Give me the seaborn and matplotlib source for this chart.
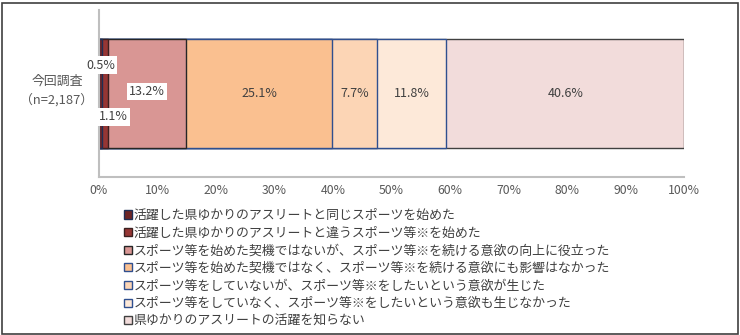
import matplotlib
matplotlib.use("Agg")
import matplotlib.pyplot as plt
import matplotlib.transforms as mtrans
from matplotlib.patches import Patch, Rectangle
import seaborn as sns
import pandas as pd
import numpy as np

category = "今回調査\n（n=2,187）"
series = [
    "活躍した県ゆかりのアスリートと同じスポーツを始めた",
    "活躍した県ゆかりのアスリートと違うスポーツ等※を始めた",
    "スポーツ等を始めた契機ではないが、スポーツ等※を続ける意欲の向上に役立った",
    "スポーツ等を始めた契機ではなく、スポーツ等※を続ける意欲にも影響はなかった",
    "スポーツ等をしていないが、スポーツ等※をしたいという意欲が生じた",
    "スポーツ等をしていなく、スポーツ等※をしたいという意欲も生じなかった",
    "県ゆかりのアスリートの活躍を知らない",
]
values = [0.5, 1.1, 13.2, 25.1, 7.7, 11.8, 40.6]
value_labels = ["0.5%", "1.1%", "13.2%", "25.1%", "7.7%", "11.8%", "40.6%"]
xticks = [0, 10, 20, 30, 40, 50, 60, 70, 80, 90, 100]
xtick_labels = [f"{t}%" for t in xticks]

colors = ["#6E2525", "#963634", "#D99694", "#FAC090", "#FCD5B5", "#FDE9D9", "#F2DCDB"]
edges = ["#1F2F55", "#3A2020", "#262626", "#2F4F8F", "#2F4F8F", "#2F4F8F", "#404040"]

sns.set_style("white")
plt.rcParams["font.family"] = ["Noto Sans CJK JP", "DejaVu Sans"]

fig = plt.figure(figsize=(7.4, 3.35), dpi=100)
ax = fig.add_axes([99 / 740, 1 - 177 / 335, 585 / 740, 167 / 335])

cum = np.cumsum(values)
# draw cumulative bars from the longest to the shortest (stacked look)
for i in range(len(values) - 1, -1, -1):
    df = pd.DataFrame({"cat": [category], "val": [cum[i]]})
    sns.barplot(data=df, x="val", y="cat", orient="h", color=colors[i],
                edgecolor=edges[i], linewidth=1.0, width=0.647, saturation=1,
                ax=ax, errorbar=None)

starts = cum - np.array(values)
centers = starts + np.array(values) / 2
label_pos = list(zip(centers, [0] * len(values)))
label_pos[0] = (0.3, -0.17)
label_pos[1] = (2.4, 0.14)
label_pos[2] = (8.2, -0.01)
for i, (lx, ly) in enumerate(label_pos):
    kw = {}
    if i < 3:
        kw["bbox"] = dict(facecolor="white", edgecolor="none", pad=1.5)
    ax.text(lx, ly, value_labels[i], ha="center", va="center",
            fontsize=9, color="#404040", **kw)

ax.set_xlim(0, 100)
ax.set_ylim(0.5, -0.5)
ax.set_xticks(xticks)
ax.set_xticklabels(xtick_labels, fontsize=8.8, color="#595959")
ax.set_xlabel("")
ax.set_ylabel("")
ax.tick_params(axis="y", length=0, labelsize=9.3, labelcolor="#595959", pad=4)
ax.tick_params(axis="x", direction="in", length=4, color="#BFBFBF", pad=5)
shift = mtrans.ScaledTranslation(0, 5 / 72, fig.dpi_scale_trans)
for lbl in ax.get_yticklabels():
    lbl.set_multialignment("center")
    lbl.set_linespacing(1.55)
    lbl.set_transform(lbl.get_transform() + shift)
for side in ["top", "right"]:
    ax.spines[side].set_visible(False)
for side in ["left", "bottom"]:
    ax.spines[side].set_color("#BFBFBF")
    ax.spines[side].set_linewidth(1.5)

handles = [Patch(facecolor=c, edgecolor=e, linewidth=1.0) for c, e in zip(colors, edges)]
fig.legend(handles, series, loc="upper left", bbox_to_anchor=(124 / 740, 1 - 209 / 335),
           frameon=False, fontsize=9.3, handlelength=0.6, handleheight=0.6,
           handletextpad=0.15, labelspacing=0.36, borderpad=0, borderaxespad=0,
           labelcolor="#404040")

fig.patches.append(Rectangle((1.5 / 740, 1.5 / 335), 736 / 740, 331 / 335,
                             transform=fig.transFigure, fill=False,
                             edgecolor="#404040", linewidth=1.2))

fig.savefig("out.png", dpi=100)
